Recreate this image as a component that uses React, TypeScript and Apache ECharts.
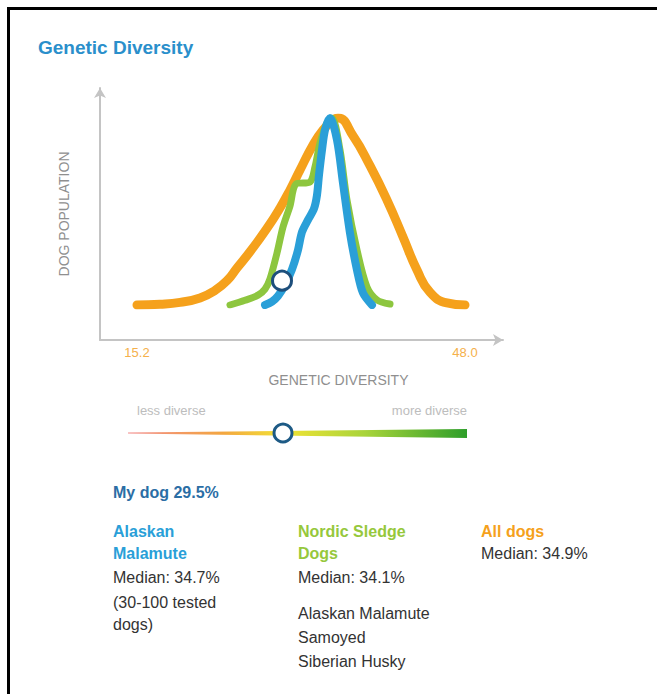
import React, { useEffect, useRef } from "react";
import * as echarts from "echarts";

// ---- data ----
const xMin = 15.2;
const xMax = 48.0;
const allDogs: [number, number][] = [
  [15.2, 0], [17.5, 0.4], [19.5, 1.4], [21.5, 3.7], [23.0, 7.8], [24.2, 13.0],
  [25.2, 19.8], [26.5, 28.5], [28.2, 41.0], [29.5, 51.9], [30.5, 61.5],
  [31.5, 72.2], [32.8, 85.6], [33.8, 93.6], [34.8, 98.9], [35.3, 100],
  [36.8, 90.5], [38.5, 74.5], [40.2, 56.1], [41.8, 36.4], [43.2, 18.7],
  [44.5, 6.8], [46.2, 1.1], [48.0, 0],
];
const nordic: [number, number][] = [
  [24.5, 0], [26.0, 2.5], [27.3, 5.3], [28.0, 8.5], [28.5, 14.0], [29.2, 27.8],
  [29.8, 41.7], [30.5, 53.0], [31.1, 64.7], [32.5, 65.8], [33.0, 73.8],
  [33.5, 86.6], [34.2, 97.3], [34.7, 100], [35.5, 82.9], [36.2, 56.1],
  [37.2, 29.4], [38.2, 9.6], [39.2, 2.7], [40.5, 0.5],
];
const malamute: [number, number][] = [
  [28.0, 0], [28.7, 1.8], [29.3, 4.8], [30.0, 10.7], [30.7, 19.0], [31.3, 29.4],
  [31.7, 39.0], [32.3, 45.5], [32.9, 51.5], [33.2, 58.8], [33.4, 69.5],
  [33.7, 82.9], [34.0, 93.6], [34.5, 100], [35.2, 88.2], [35.8, 65.2],
  [36.5, 38.5], [37.2, 18.7], [37.8, 6.4], [38.7, 0],
];
const myDogPoint: [number, number][] = [[29.7, 13]];
const myDogValue = "29.5%";
const medians = { malamute: "34.7%", nordic: "34.1%", all: "34.9%" };
const nordicBreeds = ["Alaskan Malamute", "Samoyed", "Siberian Husky"];

const ORANGE = "#F5A11C";
const GREEN = "#8DC63F";
const BLUE = "#2A9FD8";
const FONT = '"Liberation Sans", Arial, sans-serif';

export default function App() {
  const ref = useRef<HTMLDivElement>(null);
  useEffect(() => {
    if (!ref.current) return;
    const chart = echarts.init(ref.current, undefined, { renderer: "svg" });
    const txt = (text: string, x: number, y: number, fill: string, bold = false, size = 16, align = "left") => ({
      type: "text",
      style: {
        text, x, y, fill, align, verticalAlign: "middle",
        font: `${bold ? "bold " : ""}${size}px ${FONT}`,
      },
    });
    chart.setOption({
      animation: false,
      backgroundColor: "#fff",
      grid: [
        { left: 100, top: 88, width: 403, height: 252 },
        { left: 137, top: 118, width: 328, height: 187 },
      ],
      xAxis: [
        {
          gridIndex: 0, type: "value", min: 0, max: 1,
          axisLine: { show: true, symbol: ["none", "arrow"], symbolSize: [9, 10], lineStyle: { color: "#c4c4c4", width: 2 } },
          axisTick: { show: false }, axisLabel: { show: false }, splitLine: { show: false },
          name: "GENETIC DIVERSITY", nameLocation: "middle", nameGap: 33,
          nameTextStyle: { color: "#8f8f8f", fontSize: 14, fontFamily: FONT, padding: [0, 0, 0, 74] },
        },
        {
          gridIndex: 1, type: "value", min: xMin, max: xMax, interval: xMax - xMin, offset: 35,
          axisLine: { show: false }, axisTick: { show: false }, splitLine: { show: false },
          axisLabel: { show: true, showMinLabel: true, showMaxLabel: true, color: "#F5B04A", fontSize: 13, fontFamily: FONT, margin: 6, formatter: (v: number) => v.toFixed(1) },
        },
      ],
      yAxis: [
        {
          gridIndex: 0, type: "value", min: 0, max: 1,
          axisLine: { show: true, symbol: ["none", "arrow"], symbolSize: [9, 10], lineStyle: { color: "#c4c4c4", width: 2 } },
          axisTick: { show: false }, axisLabel: { show: false }, splitLine: { show: false },
          name: "DOG POPULATION", nameLocation: "middle", nameGap: 29,
          nameTextStyle: { color: "#8f8f8f", fontSize: 14, fontFamily: FONT },
        },
        {
          gridIndex: 1, type: "value", min: 0, max: 100, show: false,
        },
      ],
      series: [
        {
          type: "line", xAxisIndex: 1, yAxisIndex: 1, data: allDogs, smooth: 0.5,
          showSymbol: false, lineStyle: { color: ORANGE, width: 9, cap: "round", join: "round" }, z: 2,
        },
        {
          type: "line", xAxisIndex: 1, yAxisIndex: 1, data: nordic, smooth: 0.3,
          showSymbol: false, lineStyle: { color: GREEN, width: 7, cap: "round", join: "round" }, z: 3,
        },
        {
          type: "line", xAxisIndex: 1, yAxisIndex: 1, data: malamute, smooth: 0.3,
          showSymbol: false, lineStyle: { color: BLUE, width: 8, cap: "round", join: "round" }, z: 4,
        },
        {
          type: "scatter", xAxisIndex: 1, yAxisIndex: 1, data: myDogPoint, symbolSize: 19, z: 5,
          itemStyle: { color: "#fff", borderColor: "#1d4f7c", borderWidth: 3, opacity: 1 },
        },
      ],
      graphic: [
        { type: "rect", shape: { x: 7, y: 7, width: 650, height: 3 }, style: { fill: "#000" } },
        { type: "rect", shape: { x: 7, y: 7, width: 3, height: 687 }, style: { fill: "#000" } },
        txt("Genetic Diversity", 38, 47, "#2A8FCB", true, 19),
        txt("less diverse", 137, 410, "#bdbdbd", false, 13),
        txt("more diverse", 467, 410, "#bdbdbd", false, 13, "right"),
        {
          type: "polygon",
          shape: { points: [[128, 432.5], [467, 429], [467, 438], [128, 433.5]] },
          style: {
            fill: new echarts.graphic.LinearGradient(0, 0, 1, 0, [
              { offset: 0, color: "#F28B8B" },
              { offset: 0.28, color: "#F3A640" },
              { offset: 0.46, color: "#F2E335" },
              { offset: 0.7, color: "#A8D43A" },
              { offset: 1, color: "#2E9E2A" },
            ]),
          },
        },
        { type: "circle", shape: { cx: 283, cy: 433, r: 9 }, style: { fill: "#fff", stroke: "#1d5a85", lineWidth: 3 } },
        txt(`My dog ${myDogValue}`, 113, 492, "#2B6EA5", true, 16),
        txt("Alaskan", 113, 531, BLUE, true, 16),
        txt("Malamute", 113, 553, BLUE, true, 16),
        txt(`Median: ${medians.malamute}`, 113, 577, "#333", false, 16),
        txt("(30-100 tested", 113, 602, "#333", false, 16),
        txt("dogs)", 113, 624, "#333", false, 16),
        txt("Nordic Sledge", 298, 531, "#96C83C", true, 16),
        txt("Dogs", 298, 553, "#96C83C", true, 16),
        txt(`Median: ${medians.nordic}`, 298, 577, "#333", false, 16),
        ...nordicBreeds.map((b, i) => txt(b, 298, 613 + i * 24, "#333", false, 16)),
        txt("All dogs", 481, 531, ORANGE, true, 16),
        txt(`Median: ${medians.all}`, 481, 553, "#333", false, 16),
      ],
    });
    return () => chart.dispose();
  }, []);
  return <div ref={ref} style={{ position: "absolute", left: 0, top: 0, width: 657, height: 694 }} />;
}
